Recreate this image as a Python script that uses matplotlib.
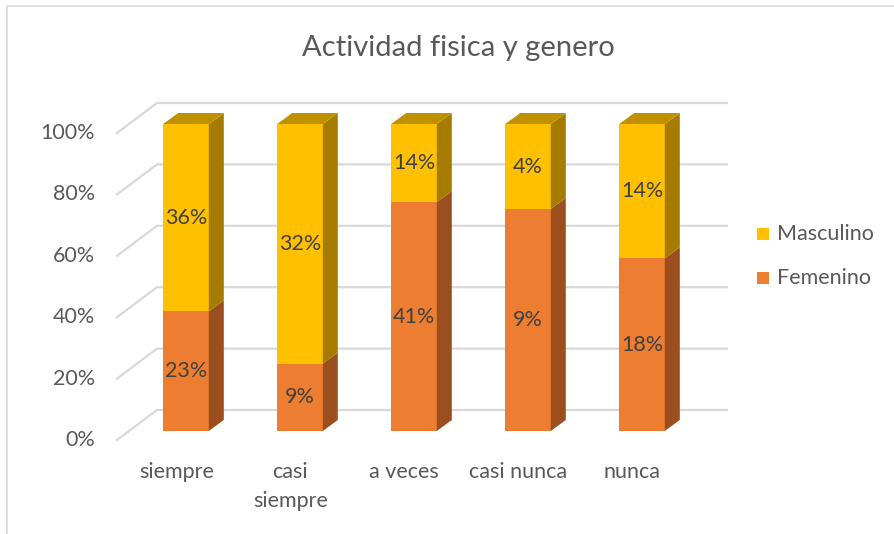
import matplotlib.pyplot as plt
from matplotlib.patches import Polygon, Rectangle
import numpy as np

categorias = ['siempre', 'casi\nsiempre', 'a veces', 'casi nunca', 'nunca']
femenino = [23.0, 9.0, 41.0, 9.4, 18.0]
masculino = [36.0, 32.0, 14.0, 3.6, 14.0]
ticks = [0, 0.2, 0.4, 0.6, 0.8, 1.0]
tick_labels = ['0%', '20%', '40%', '60%', '80%', '100%']

plt.rcParams['font.family'] = ['Lato', 'DejaVu Sans']

# colores: frente, lado, techo
col_fem = ('#ED7D31', '#9C4F1E', '#B85F24')
col_mas = ('#FFC000', '#A67C00', '#BF9000')
col_txt = '#404040'
col_gris = '#595959'

W, H = 894, 534
fig = plt.figure(figsize=(W / 100, H / 100), dpi=100)

# plano frontal en pixeles
x0, x1 = 117, 687
y0, y1 = 440, 133
ax = fig.add_axes([x0 / W, (H - y0) / H, (x1 - x0) / W, (y0 - y1) / H])
n = len(categorias)
ax.set_xlim(-0.5, n - 0.5)
ax.set_ylim(0, 1)
ax.axis('off')

# profundidad en unidades de datos
px_x = (x1 - x0) / n
px_y = (y0 - y1)
dx, dy = 40 / px_x, 30 / px_y          # fondo del piso
fx, fy = 12 / px_x, 9 / px_y           # frente de la barra
bx, by = 15 / px_x, 11 / px_y          # profundidad de la barra
ancho = 0.4

# cuadricula (pared del fondo)
for t, lab in zip(ticks, tick_labels):
    ax.plot([-0.5, -0.5 + dx, n - 0.5 + dx], [t, t + dy, t + dy],
            color='#D9D9D9', lw=1.6, clip_on=False, zorder=1)
    ax.text(-0.5 - 22 / px_x, t, lab, ha='right', va='center',
            fontsize=15.5, color=col_gris)

fem = np.array(femenino)
mas = np.array(masculino)
tot = fem + mas
p_fem = fem / tot
p_mas = mas / tot


def caja(xc, base, alto, cols, techo):
    xl = xc - ancho / 2 + fx
    xr = xc + ancho / 2 + fx
    yb = base + fy
    yt = base + alto + fy
    ax.add_patch(Rectangle((xl, yb), xr - xl, yt - yb, facecolor=cols[0],
                           edgecolor='none', clip_on=False, zorder=3))
    ax.add_patch(Polygon([(xr, yb), (xr + bx, yb + by), (xr + bx, yt + by), (xr, yt)],
                         closed=True, facecolor=cols[1], edgecolor='none',
                         clip_on=False, zorder=3))
    if techo:
        ax.add_patch(Polygon([(xl, yt), (xr, yt), (xr + bx, yt + by), (xl + bx, yt + by)],
                             closed=True, facecolor=cols[2], edgecolor='none',
                             clip_on=False, zorder=3))


for i in range(n):
    caja(i, 0, p_fem[i], col_fem, False)
    caja(i, p_fem[i], p_mas[i], col_mas, True)
    ax.text(i + fx, p_fem[i] / 2 + fy, f'{femenino[i]:.0f}%', ha='center', va='center',
            fontsize=15.5, color=col_txt, zorder=5)
    ax.text(i + fx, p_fem[i] + p_mas[i] / 2 + fy, f'{masculino[i]:.0f}%', ha='center',
            va='center', fontsize=15.5, color=col_txt, zorder=5)
    ax.text(i + 0.02, -0.072, categorias[i], ha='center', va='top', fontsize=15.5,
            color=col_gris, linespacing=1.55)

fig.text(458 / W, 1 - 48 / H, 'Actividad fisica y genero', ha='center', va='center',
         fontsize=21, color=col_gris)

# leyenda
for j, (nombre, c) in enumerate([('Masculino', col_mas[0]), ('Femenino', col_fem[0])]):
    yy = 1 - (234 + j * 44) / H
    fig.patches.append(Rectangle((757 / W, yy - 6 / H), 12 / W, 12 / H, facecolor=c,
                                 edgecolor='none', transform=fig.transFigure))
    fig.text(777 / W, yy, nombre, ha='left', va='center', fontsize=15.5, color=col_gris)

# borde del grafico
fig.add_artist(plt.Line2D([7 / W, 7 / W, 1], [0, 1 - 6 / H, 1 - 6 / H],
                          color='#D9D9D9', lw=1.2, transform=fig.transFigure))

fig.savefig('out.png', dpi=100)
